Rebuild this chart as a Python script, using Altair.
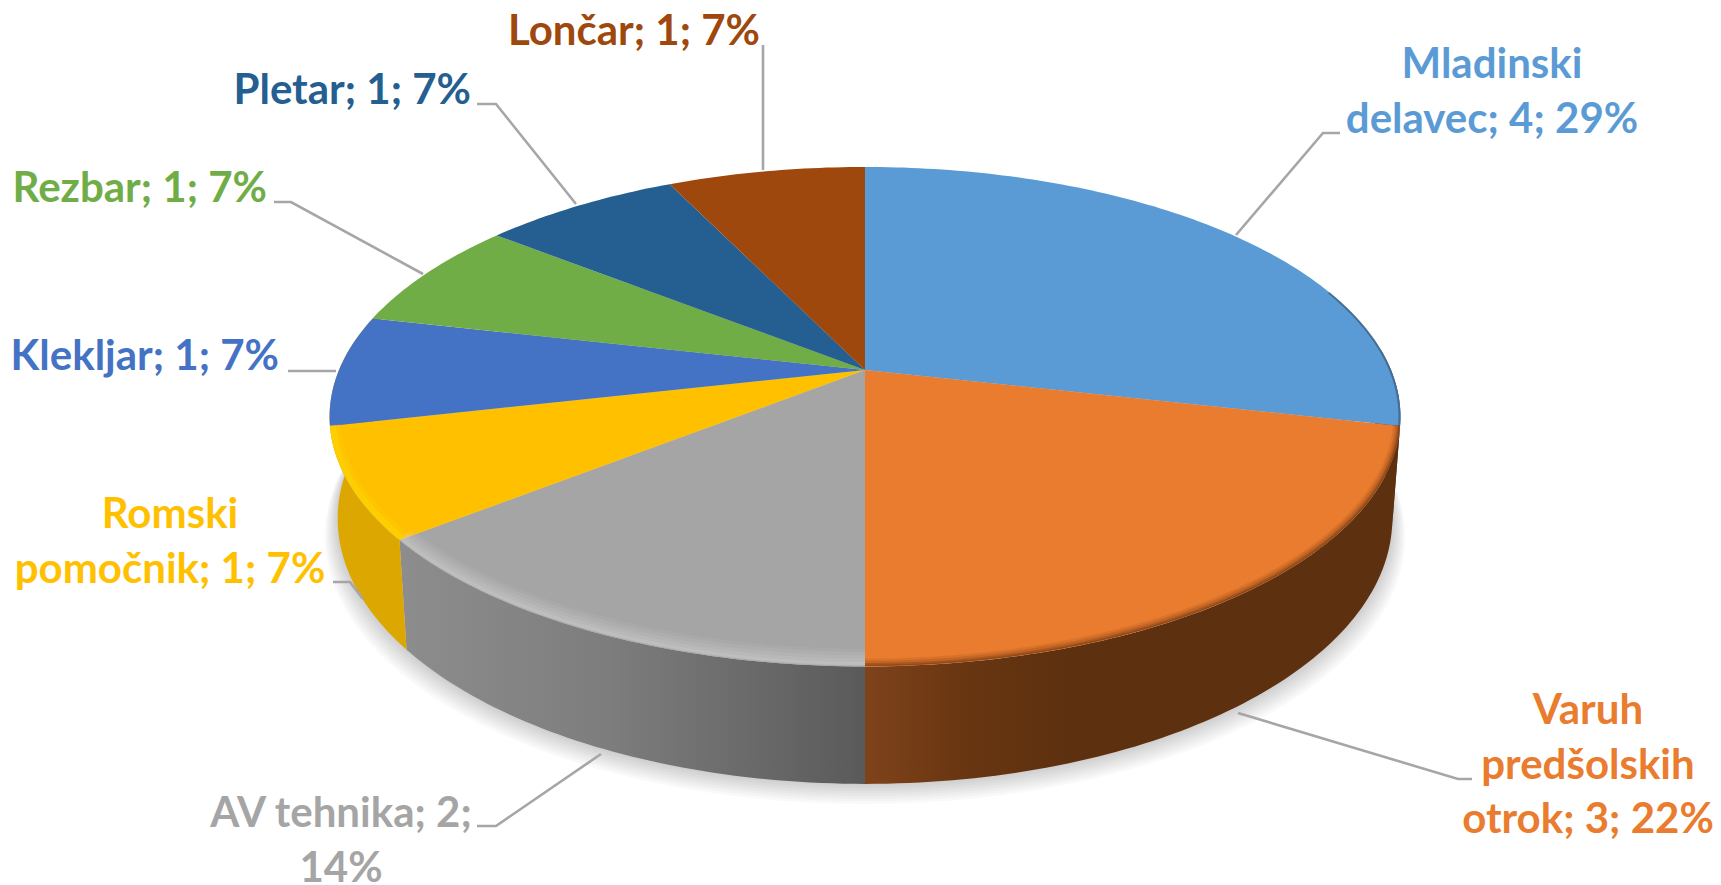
import math
import altair as alt

categories = ["Mladinski delavec", "Varuh predšolskih otrok", "AV tehnika", "Romski pomočnik",
              "Klekljar", "Rezbar", "Pletar", "Lončar"]
values = [4, 3, 2, 1, 1, 1, 1, 1]
colors = ["#5b9bd5", "#e97c2e", "#a5a5a5", "#ffc000", "#4472c4", "#70ad47", "#255e91", "#9e480e"]
label_lines = [
    ["Mladinski", "delavec; 4; 29%"],
    ["Varuh", "predšolskih", "otrok; 3; 22%"],
    ["AV tehnika; 2;", "14%"],
    ["Romski", "pomočnik; 1; 7%"],
    ["Klekljar; 1; 7%"],
    ["Rezbar; 1; 7%"],
    ["Pletar; 1; 7%"],
    ["Lončar; 1; 7%"],
]
# layout of labels: anchor x, first baseline y, alignment (reference pixels)
label_pos = [(1492, 78, "center"), (1588, 724, "center"), (341, 827, "center"), (170, 528, "center"),
             (279, 370, "right"), (267, 202, "right"), (471, 104, "right"), (760, 45, "right")]
line_step = 54.5
leaders = [
    [(1340, 133), (1323, 133), (1236, 235)],
    [(1472, 779), (1458, 779), (1238, 713)],
    [(477, 826), (496, 826), (601, 754)],
    [(333, 582), (350, 582), (363, 599)],
    [(288, 371), (336, 371)],
    [(274, 202), (291, 202), (423, 274)],
    [(477, 104), (496, 104), (576, 204)],
    [(763, 45), (763, 170)],
]

OFF = 8
CX, CY_TOP, A_TOP, B_TOP = 865, 370, 526, 241
CY_LOW, A_LOW, B_LOW = 469, 518, 256
K = 0.187


def rim(deg, cy=CY_TOP, a=A_TOP, b=B_TOP, cx=CX):
    t = math.radians(deg)
    u, v = math.sin(t), math.cos(t)
    d = 1 + K * v
    return [cx + a * u / d - OFF, cy - b * v / d - OFF]


def arc(d0, d1, **kw):
    n = max(2, int(abs(d1 - d0)) + 1)
    return [rim(d0 + (d1 - d0) * i / n, **kw) for i in range(n + 1)]


def feature(name, kind, coords):
    return {"type": "Feature", "properties": {"name": name}, "geometry": {"type": kind, "coordinates": coords}}


def geo(features, **mark):
    return alt.Chart(alt.Data(values=features)).mark_geoshape(**mark).project(type="identity", scale=1, translate=[0, 0])


def grad(stops):
    return alt.Gradient(gradient="linear", x1=0, y1=0, x2=1, y2=0,
                        stops=[alt.GradientStop(offset=o, color=c) for o, c in stops])


total = sum(values)
edges = [0]
for v in values:
    edges.append(edges[-1] + 360 * v / total)

layers = []

# soft shadow
for d in range(2, 24, 3):
    ring = arc(0, 360, cy=CY_LOW + d * 0.75, a=A_LOW + d * 0.55, b=B_LOW + d * 0.1)
    layers.append(geo([feature("shadow", "Polygon", [ring])], fill="#000000", fillOpacity=0.022, strokeWidth=0))

# side walls
low = dict(cy=CY_LOW, a=A_LOW, b=B_LOW)
walls = [
    (85, edges[1], "#3b3a3a"),
    (edges[1], edges[2], grad([(0, "#7f431b"), (0.18, "#693611"), (0.38, "#5d300f"), (1, "#5d300f")])),
    (edges[2], edges[3], grad([(0, "#8d8d8d"), (0.45, "#7d7d7d"), (0.75, "#6a6a6a"), (1, "#5a5a5a")])),
    (edges[3], 285, "#dca700"),
]
for d0, d1, fill in walls:
    poly = arc(d0, d1) + arc(d1, d0, **low)
    poly.append(poly[0])
    layers.append(geo([feature("wall", "Polygon", [poly])], fill=fill, strokeWidth=0))

# top faces
tops = []
for i, name in enumerate(categories):
    apex = [CX - OFF, CY_TOP - OFF]
    tops.append(feature(name, "Polygon", [[apex] + arc(edges[i], edges[i + 1]) + [apex]]))
layers.append(
    geo(tops, strokeWidth=0).encode(
        color=alt.Color("properties.name:N", scale=alt.Scale(domain=categories, range=colors), legend=None)
    )
)

# bevel on the rim
bevels = [
    (70, edges[1], "#2c4258", [(2, 0.5)]),
    (edges[1], edges[2], "#6a3411", [(7, 0.12), (5, 0.18), (3, 0.3), (1.5, 0.4)]),
    (edges[2], edges[3], "#dedede", [(16, 0.08), (13, 0.1), (10, 0.12), (7, 0.14), (4, 0.16)]),
    (edges[3], edges[4], "#ffdc00", [(10, 0.2), (6, 0.4)]),
]
for d0, d1, col, strokes in bevels:
    for w, op in strokes:
        layers.append(
            geo([feature("bevel", "LineString", arc(d0, d1, a=A_TOP - w / 2, b=B_TOP - w / 2))],
                filled=False, stroke=col, strokeWidth=w, strokeOpacity=op)
        )

# leader lines
lines = [feature(c, "LineString", [[x - OFF, y - OFF] for x, y in pts]) for c, pts in zip(categories, leaders)]
layers.append(geo(lines, filled=False, stroke="#a6a6a6", strokeWidth=2.6))

# labels
rows = []
for i, lines_ in enumerate(label_lines):
    x, y, align = label_pos[i]
    for j, t in enumerate(lines_):
        rows.append({"t": t, "x": x - OFF, "y": y - OFF + j * line_step, "c": categories[i], "align": align})

for align in ("center", "right"):
    sub = [r for r in rows if r["align"] == align]
    layers.append(
        alt.Chart(alt.Data(values=sub)).mark_text(
            font="Lato", fontWeight="bold", fontSize=42, align=align, baseline="alphabetic"
        ).encode(
            x=alt.X("x:Q", scale=None, axis=None),
            y=alt.Y("y:Q", scale=None, axis=None),
            text="t:N",
            color=alt.Color("c:N", scale=alt.Scale(domain=categories, range=colors), legend=None),
        )
    )

chart = alt.layer(*layers).properties(
    width=1705, height=877, padding=0, autosize=alt.AutoSizeParams(type="none"), background="#ffffff"
).configure_view(strokeWidth=0)

chart.save("out.html", embed_options={"renderer": "svg", "actions": False})
